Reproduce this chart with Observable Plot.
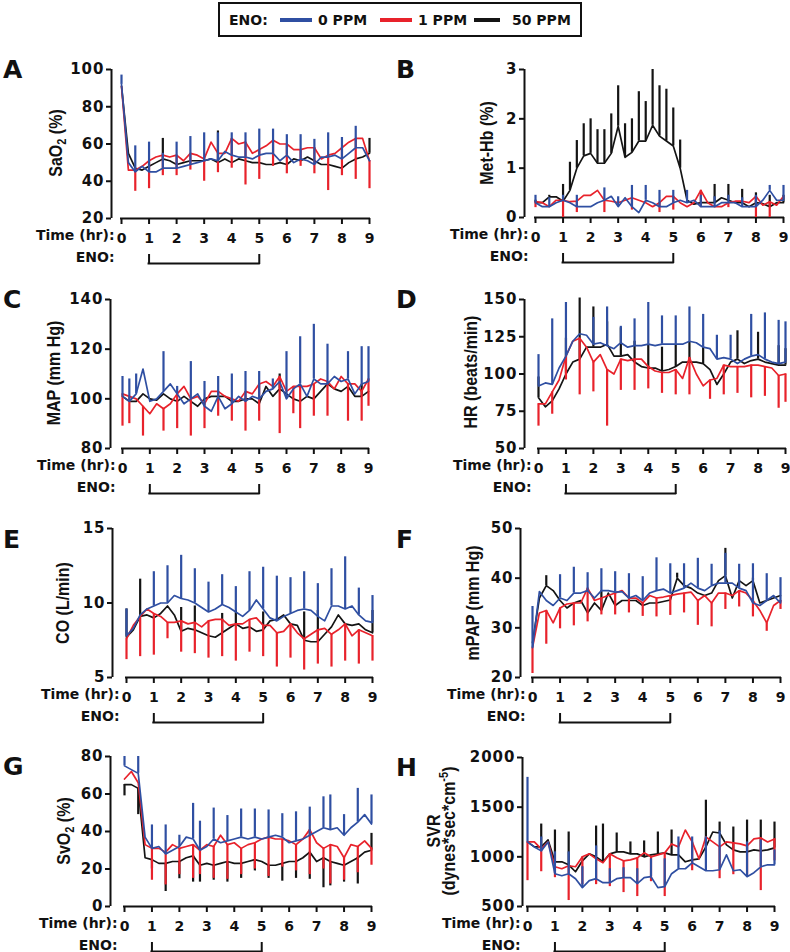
<!DOCTYPE html>
<html><head><meta charset="utf-8">
<script src="https://cdn.jsdelivr.net/npm/d3@7"></script>
<script src="https://cdn.jsdelivr.net/npm/@observablehq/plot@0.6"></script>
<style>
html,body{margin:0;padding:0;background:#fff;}
#wrap{position:relative;width:790px;height:952px;overflow:hidden;font-family:"DejaVu Sans",sans-serif;font-weight:bold;color:#111;background:#fff;}
.panel{position:absolute;}
.panel svg{max-width:none !important;background:transparent !important;}
.panel g[aria-label="y-axis tick label"] text{letter-spacing:1px;}
.letter{position:absolute;font-size:25px;line-height:25px;font-weight:bold;}
.ylab{position:absolute;font-family:"Liberation Sans",Arial,sans-serif;font-size:16px;font-weight:bold;white-space:nowrap;transform:translate(-50%,-50%) rotate(-90deg) scaleY(1.2);text-align:center;line-height:13px;}
.ylab sub{font-size:11px;vertical-align:-4px;line-height:0;}
.ylab sup{font-size:11px;vertical-align:6px;line-height:0;}
.lg{position:absolute;font-size:14px;line-height:16px;white-space:nowrap;}
.sw{position:absolute;height:4px;}
</style></head>
<body><div id="wrap"></div>
<script>
// ---------- shared axes data ----------
const hours = [0,0.25,0.5,0.75,1,1.25,1.5,1.75,2,2.25,2.5,2.75,3,3.25,3.5,3.75,4,4.25,4.5,4.75,5,5.25,5.5,5.75,6,6.25,6.5,6.75,7,7.25,7.5,7.75,8,8.25,8.5,8.75,9];
const timeTicks = [0,1,2,3,4,5,6,7,8,9];
const enoHours = [1, 5];
const groups = ["0 PPM", "1 PPM", "50 PPM"];

// ---------- A: SaO2 ----------
const sao2Ticks = [20,40,60,80,100];
const sao2_0 = [92,50,45,48,45,45,47,47,47,48,49,50,51,52,51,56,54,53,53,52,54,55,55,51,54,50,52,51,49,53,53,54,52,55,58,58,51];
const sao2_0_errT = [0,0.5,1,1.5,2,2.5,3,3.5,4,4.5,5,5.5,6,6.5,7,7.5,8,8.5];
const sao2_0_errTip = [97,59,61,55,61,64,66,66,66,66,68,68,65,65,62.5,66,63.5,69.5];
const sao2_1 = [91,46,46,48,51,53,54,53,54,51,55,54,52,61,55,55,63,60,61,55,57,59,62,60,60,57,57,58,58,52,54,55,58,61,63,63,51];
const sao2_1_errT = [0.5,1,1.5,2,2.5,3,3.5,4,4.5,5,5.5,6,6.5,7,7.5,8,8.5,9];
const sao2_1_errTip = [34.6,36,43,43,46,40,44.6,47,38,41,48,44,48,44,35,43,41,36];
const sao2_50 = [91,55,47,46,48,50,52,51,49,50,51,51,51,52,50,52,50,52,51,50,50,49,49,50,49,52,51,53,51,49,49,48,47,50,52,53,55];
const sao2_50_errT = [1.5,3.5,9];
const sao2_50_errTip = [63,67,63];

// ---------- B: Met-Hb ----------
const methbTicks = [0,1,2,3];
const methb_0 = [0.3,0.22,0.22,0.3,0.35,0.3,0.22,0.22,0.22,0.3,0.35,0.43,0.22,0.4,0.22,0.1,0.35,0.3,0.22,0.22,0.3,0.35,0.3,0.35,0.22,0.22,0.22,0.3,0.3,0.3,0.22,0.22,0.22,0.35,0.55,0.35,0.35];
const methb_0_errT = [0,0.5,1,1.5,2.5,3,3.5,4,4.5,5,5.5,6,6.5,7,7.5,8,8.5,9];
const methb_0_errTip = [0.45,0.4,0.45,0.45,0.6,0.42,0.65,0.65,0.55,0.55,0.55,0.45,0.42,0.45,0.4,0.45,0.65,0.65];
const methb_1 = [0.32,0.3,0.22,0.35,0.35,0.32,0.33,0.45,0.45,0.55,0.35,0.33,0.3,0.35,0.4,0.35,0.3,0.22,0.3,0.43,0.43,0.3,0.22,0.3,0.55,0.3,0.22,0.22,0.3,0.33,0.33,0.3,0.43,0.25,0.32,0.25,0.43];
const methb_1_errT = [0,1,1.5,2.5,3.5,4.5,5,6,7,8,8.5];
const methb_1_errTip = [0.2,0.0,0.1,0.1,0.15,0.1,0.15,0.2,0.2,0.0,0.0];
const methb_50 = [0.3,0.3,0.42,0.42,0.33,0.55,1.0,1.25,1.3,1.1,1.1,1.3,1.85,1.22,1.32,1.55,1.55,1.87,1.65,1.55,1.45,1.0,0.35,0.27,0.3,0.3,0.3,0.4,0.35,0.3,0.3,0.22,0.3,0.28,0.22,0.3,0.3];
const methb_50_errT = [0,0.5,1,1.25,1.5,1.75,2,2.25,2.5,2.75,3,3.25,3.5,3.75,4,4.25,4.5,4.75,5,5.25,6.5,7,7.5,8,8.5,9];
const methb_50_errTip = [0.35,0.45,0.67,1.12,1.56,1.9,2.0,1.78,1.78,2.1,2.67,1.9,2.0,2.55,2.35,3.0,2.67,2.6,2.22,1.57,0.67,0.67,0.57,0.5,0.45,0.45];

// ---------- C: MAP ----------
const mapTicks = [80,100,120,140];
const map_0 = [101,99,102,112,99,100,103,106,102,98,100,102,97,95,101,96,98,101,99,101,100,103,104,107,100,104,106,101,108,106,106,109,107,108,102,106,107];
const map_0_errT = [0,0.25,0.5,1.5,2,2.5,3,3.5,4,4.5,5,5.5,6,6.5,7,7.5,8.25,8.75,9];
const map_0_errTip = [109,108,110,119,105,115,107,109,110,111,111,108,119,125,130,122,119,121,121];
const map_1 = [102,101,100,97,94,98,96,98,102,105,100,101,98,103,103,101,100,99,103,102,106,107,105,109,103,105,105,105,106,108,107,104,109,106,106,103,108];
const map_1_errT = [0,0.25,0.75,1.5,2,2.5,3,3.5,4,4.5,5,5.75,6.25,6.5,7,7.5,8.25,8.75,9];
const map_1_errTip = [89,90,85,87,88,85,88,93,91,87,91,86,94,88,93,93,91,91,97];
const map_50 = [101,99,99,102,100,99.5,102,100,99,101,99,97,100,101,101,101,99,99,100,100,98,105,101,104,102,100,99,101,100,103,106,104,103,105,101,101,103];
const map_50_errT = [5.75,8.75];
const map_50_errTip = [110,106];

// ---------- D: HR ----------
const hrTicks = [50,75,100,125,150];
const hr_0 = [92,94,93,104,112,122,127,126,120,121,119,117,121,118,119,119,120,119,120,120,120,120,122,121,118,117,110,111,110,107,110,112,113,110,108,107,108];
const hr_0_errT = [0,0.5,1,2,2.5,3,3.5,4,4.5,5,5.5,6,6.5,7,7.75,8.25,8.75,9];
const hr_0_errTip = [113,137,148,138,145,132,137,148,139,139,145,140,126,126,140,141,136,135];
const hr_1 = [80,80,88,96,112,122,124,118,108,113,103,100,110,109,110,110,105,102,101,101,103,97,111,100,92,96,97,106,105,105,105,106,106,105,104,99,100];
const hr_1_errT = [0,0.5,1,1.5,2,2.5,3,3.5,4,4.5,5,5.5,6.25,6.75,7.25,7.75,8.25,8.75,9];
const hr_1_errTip = [65,73,96,86,88,65,89,89,90,87,86,86,83,86,87,84,85,77,81];
const hr_50 = [84,78,82,90,100,108,110,118,118,118,120,112,112,113,108,105,104,104,102,103,105,108,108,108,107,103,93,100,108,110,107,109,110,108,107,106,106];
const hr_50_errT = [0,1,1.5,2,2.5,3,3.5,4,4.5,5,5.5,6,7.25,8,8.75,9];
const hr_50_errTip = [98,124,151,145,135,131,122,120,118,120,122,118,129,128,119,117];

// ---------- E: CO ----------
const coTicks = [5,10,15];
const co_0 = [7.8,8.3,9.2,9.6,9.8,10.0,10.0,10.5,10.3,10.2,10.0,9.7,9.4,9.6,9.9,9.7,9.4,9.1,9.5,10.2,9.6,9.0,8.8,9.1,9.3,9.5,9.6,9.5,9.1,8.8,9.8,9.8,9.6,9.8,9.2,8.8,8.7];
const co_0_errT = [0,1,1.5,2,2.5,3,3.5,4,4.5,5,5.5,6,6.5,7,7.5,8,8.5,9];
const co_0_errTip = [9.6,12.1,12.5,13.2,12.3,11.4,11.9,11.1,12.1,12.4,11.8,11.7,12.1,11.3,12.3,13.1,11.0,10.5];
const co_1 = [7.6,8.5,9.1,9.6,9.3,9.1,8.7,8.7,8.8,8.6,8.7,8.4,8.8,8.9,8.9,8.5,8.6,8.6,8.9,9.0,8.5,8.5,8.0,8.1,8.6,8.0,7.6,7.9,8.2,8.3,7.9,8.2,8.6,7.8,8.2,8.0,7.8];
const co_1_errT = [0,0.5,1,1.5,2,2.5,3,3.5,4,4.5,5,5.5,6,6.5,7,7.5,8,8.5,9];
const co_1_errTip = [6.2,6.4,6.5,7.6,6.7,6.6,6.3,6.4,6.1,6.7,6.4,5.7,6.3,5.5,5.9,5.7,6.1,5.9,6.1];
const co_50 = [7.7,8.2,9.1,9.2,9.0,9.3,9.8,9.2,8.1,8.3,8.2,8.0,7.8,7.7,8.0,8.3,8.6,8.3,8.4,8.1,8.2,8.8,8.9,9.2,8.6,8.5,7.5,7.4,7.4,7.9,8.4,9.2,8.6,8.5,8.6,8.2,8.0];
const co_50_errT = [0,0.5,2,2.5,3.5,4,5,6.5,7,9];
const co_50_errTip = [9.6,11.6,9.7,9.8,9.3,9.5,9.4,9.4,9.5,9.5];

// ---------- F: mPAP ----------
const mpapTicks = [20,30,40,50];
const mpap_0 = [26,37.3,35.5,34.5,36,35.5,37,37,37.5,36,37.5,37.5,37.2,37.3,36,36.5,35.5,37,37.5,37.8,37,37.5,38,39,38,37.5,38.5,39,39,39,38,37.5,35,34.5,35.5,36.5,35];
const mpap_0_errT = [0,1,1.5,2,2.5,3,3.5,4,4.5,5,5.5,6,6.5,7,7.5,8,8.5,9];
const mpap_0_errTip = [34.3,40.7,42.2,41.1,41.9,41.3,40.9,40.3,44.1,42.9,42.9,44.0,42.8,45.0,42.8,42.9,40.9,40.1];
const mpap_1 = [26,33,33.5,31,34,34.8,35,35,38,35.5,36,36.5,37,37.5,36,36,35,36.5,36,36.2,36.5,36.8,37,37.2,35.5,36.5,35,37,37,36.5,37.5,37,35.5,33.5,31,34.5,35.5];
const mpap_1_errT = [0,0.5,1,1.5,2,2.5,3,3.5,4,4.5,5,5.5,6,6.5,7,7.5,8,8.5,9];
const mpap_1_errTip = [20.8,26.7,29.8,30.4,31.2,32.6,32.6,33,32.3,32.2,32.5,33,30.5,30.2,33.7,34.2,32.2,29.3,33.7];
const mpap_50 = [27,36,38.5,37.5,35.5,34,35,35.5,33,35,33.5,37,34.5,35.5,35.5,35.5,34.5,35,35,35.3,35.6,40,38.5,38,37,36.5,37,39.5,40.5,36,39.5,38.5,39.5,35,35.5,36,36.5];
const mpap_50_errT = [0.5,2.5,5.25,7,8];
const mpap_50_errTip = [40.5,37.5,41,46,40];

// ---------- G: SvO2 ----------
const svo2Ticks = [0,20,40,60,80];
const svo2_0 = [75,73,71,37,31,32,28,30,32,37,36,30,32,36,34,35,36,37,36,37,36,37,38,37,34,35,36,38,40,42,41,42,38,42,45,49,44];
const svo2_0_errT = [0,0.5,1,1.5,2,2.5,2.75,3.25,3.75,4.25,4.75,5.25,5.75,6.25,6.75,7.25,7.5,8,8.5,9];
const svo2_0_errTip = [80,80,43.5,43.5,38,55,45.5,52.5,48.5,52,52,51.5,49.5,50.5,53,58.5,59.5,49,63,59.5];
const svo2_1 = [68,72,66,33,31,31,29,33,31,32,33,30,33,32,38,33,34,31,33,34,36,37,36,36,35,33,36,41,34,31,33,32,26,33,32,35,31];
const svo2_1_errT = [1,1.5,2,2.5,2.75,3.25,3.75,4.25,4.75,5.25,5.75,6.25,6.75,7.25,7.5,8,8.5,9];
const svo2_1_errTip = [14,11.5,17,15,17,15,14.5,17,20,16,21,19,17,20,12,14,18,22];
const svo2_50 = [65,65,63,26,25,23,23,24,24,26,27,22,23,22,23,24,23,23,24,25,24,22,22,23,24,24,26,29,24,26,24,23,22,24,26,29,30];
const svo2_50_errT = [0,0.5,1,1.5,2,2.5,2.75,3.25,3.75,4.25,4.75,5.25,5.75,6.25,6.75,7.25,7.5,8,8.5,9];
const svo2_50_errTip = [59,49,20,8,14.8,13,13,14,13,15,19,15,13.5,15,14.5,10,11,13,12,39];

// ---------- H: SVR ----------
const svrTicks = [500,1000,1500,2000];
const svr_0 = [1150,1100,1060,1150,830,810,830,780,690,760,780,740,740,780,790,790,730,790,800,690,700,830,880,880,940,900,860,860,870,1020,860,870,800,840,900,920,920];
const svr_0_errT = [0,0.5,1,1.5,2,2.5,3,3.5,4,4.5,5,5.5,6,6.5,7,8,8.5,9];
const svr_0_errTip = [1800,1200,1050,1050,900,1110,880,890,880,980,980,1200,1200,1200,1260,1150,1170,1070];
const svr_1 = [1150,1150,1080,1150,900,880,910,900,1000,1030,980,940,1030,990,960,970,990,1040,1000,1020,1040,1130,1100,1270,1150,980,1200,1150,1100,1150,1140,1130,1110,1180,1190,1150,1180];
const svr_1_errT = [0,0.5,1,1.5,2,2.5,3,3.5,4,4.5,5,6,7,7.5,8,8.5,9];
const svr_1_errTip = [760,850,790,560,720,720,700,640,600,750,600,860,780,820,800,660,960];
const svr_50 = [1150,1100,1100,1170,950,950,920,850,960,1030,1000,950,1030,1050,1050,1030,1030,1000,1020,1030,1040,1020,1020,950,970,980,1100,1250,1240,1120,1070,1050,1050,1070,1060,1070,1090];
const svr_50_errT = [0.5,1,1.5,2.5,2.75,3.25,3.75,4.25,4.75,5.25,6.5,7,7.5,8,8.5,9];
const svr_50_errTip = [1330,1270,1250,1310,1330,1240,1150,1160,1250,1270,1570,1350,1300,1370,1370,1350];

// ---------- styling / layout ----------
const COLORS = {"0 PPM": "#2f4fa2", "1 PPM": "#e8222b", "50 PPM": "#141414"};
const AXIS = "#111";

const panels = [
  {letter:"A", label:"SaO<sub>2</sub> (%)", ticks:sao2Ticks, s:[[sao2_50,sao2_50_errT,sao2_50_errTip],[sao2_1,sao2_1_errT,sao2_1_errTip],[sao2_0,sao2_0_errT,sao2_0_errTip]],
   g:{axisX:111,x0:121,x9:369,yTop:69,yBot:218,lx:3,ly:57,yl:[55,143]}},
  {letter:"B", label:"Met-Hb (%)", ticks:methbTicks, s:[[methb_50,methb_50_errT,methb_50_errTip],[methb_1,methb_1_errT,methb_1_errTip],[methb_0,methb_0_errT,methb_0_errTip]],
   g:{axisX:524,x0:535,x9:783,yTop:69,yBot:217,lx:396,ly:57,yl:[486,143]}},
  {letter:"C", label:"MAP (mm Hg)", ticks:mapTicks, s:[[map_50,map_50_errT,map_50_errTip],[map_1,map_1_errT,map_1_errTip],[map_0,map_0_errT,map_0_errTip]],
   g:{axisX:110,x0:122,x9:368,yTop:299,yBot:448,lx:3,ly:287,yl:[53,373]}},
  {letter:"D", label:"HR (beats/min)", ticks:hrTicks, s:[[hr_50,hr_50_errT,hr_50_errTip],[hr_1,hr_1_errT,hr_1_errTip],[hr_0,hr_0_errT,hr_0_errTip]],
   g:{axisX:524,x0:538,x9:785,yTop:299,yBot:448,lx:396,ly:287,yl:[470,372]}},
  {letter:"E", label:"CO (L/min)", ticks:coTicks, s:[[co_50,co_50_errT,co_50_errTip],[co_1,co_1_errT,co_1_errTip],[co_0,co_0_errT,co_0_errTip]],
   g:{axisX:112,x0:126,x9:372,yTop:528,yBot:677,lx:3,ly:527,yl:[62,603]}},
  {letter:"F", label:"mPAP (mm Hg)", ticks:mpapTicks, s:[[mpap_50,mpap_50_errT,mpap_50_errTip],[mpap_1,mpap_1_errT,mpap_1_errTip],[mpap_0,mpap_0_errT,mpap_0_errTip]],
   g:{axisX:520,x0:532,x9:780,yTop:528,yBot:677,lx:396,ly:527,yl:[472,603]}},
  {letter:"G", label:"SvO<sub>2</sub> (%)", ticks:svo2Ticks, s:[[svo2_50,svo2_50_errT,svo2_50_errTip],[svo2_1,svo2_1_errT,svo2_1_errTip],[svo2_0,svo2_0_errT,svo2_0_errTip]],
   g:{axisX:110,x0:124,x9:371,yTop:756,yBot:906,lx:3,ly:754,yl:[63,831]}},
  {letter:"H", label:"SVR<br>(dynes*sec*cm<sup>-5</sup>)", ticks:svrTicks, s:[[svr_50,svr_50_errT,svr_50_errTip],[svr_1,svr_1_errT,svr_1_errTip],[svr_0,svr_0_errT,svr_0_errTip]],
   g:{axisX:522,x0:527,x9:774,yTop:757,yBot:906,lx:396,ly:755,yl:[441,831]}}
];
const seriesGroups = ["50 PPM", "1 PPM", "0 PPM"];

const wrap = document.getElementById("wrap");

function buildPanel(p) {
  const g = p.g;
  const L = g.axisX - 105, T = g.yTop - 12, mb = 54;
  const pxPerHr = (g.x9 - g.x0) / (timeTicks[timeTicks.length-1] - timeTicks[0]);
  const d = (g.x0 - g.axisX) / pxPerHr;
  const width = g.x9 - L + 12;
  const height = g.yBot - T + mb;
  const plotH = g.yBot - g.yTop;
  const ymin = p.ticks[0], ymax = p.ticks[p.ticks.length-1];
  const marks = [];
  p.s.forEach(([vals, errT, errTip], k) => {
    const color = COLORS[seriesGroups[k]];
    const line = vals.map((v, i) => ({t: hours[i], v}));
    const bars = errT.map((t, i) => ({t, v: vals[hours.indexOf(t)], tip: errTip[i]}));
    marks.push(Plot.ruleX(bars, {x: "t", y1: "v", y2: "tip", stroke: color, strokeWidth: 2.2}));
    marks.push(Plot.line(line, {x: "t", y: "v", stroke: color, strokeWidth: 1.7, strokeLinejoin: "round"}));
  });
  const first = timeTicks[0], last = timeTicks[timeTicks.length-1];
  const chart = Plot.plot({
    width, height,
    marginLeft: g.axisX - L, marginRight: 12, marginTop: g.yTop - T, marginBottom: mb,
    x: {domain: [first - d, last], axis: null},
    y: {domain: [ymin, ymax], axis: null},
    style: {fontFamily: "'DejaVu Sans', sans-serif", fontSize: "14px", fontWeight: "bold", color: AXIS, background: "transparent", overflow: "visible"},
    marks: [
      Plot.ruleX([first - d], {stroke: AXIS, strokeWidth: 2}),
      Plot.axisY(p.ticks, {anchor: "left", tickSize: 5, tickPadding: 2, strokeWidth: 2, stroke: AXIS, label: null, fontSize: 15, fontWeight: "bold", tickFormat: v => String(v)}),
      Plot.ruleY([ymin], {x1: () => first, x2: () => last, stroke: AXIS, strokeWidth: 2, strokeLinecap: "square"}),
      Plot.axisX(timeTicks, {anchor: "bottom", tickSize: 6, tickPadding: 9, strokeWidth: 2, stroke: AXIS, label: null, fontSize: 14, fontWeight: "bold", tickFormat: v => String(v)}),
      Plot.text(["Time (hr):"], {x: () => first, frameAnchor: "bottom", dy: 21, dx: -7, textAnchor: "end", fontSize: 14, fontWeight: "bold", fill: AXIS}),
      Plot.text(["ENO:"], {x: () => first, frameAnchor: "bottom", dy: 43, dx: -7, textAnchor: "end", fontSize: 14, fontWeight: "bold", fill: AXIS}),
      Plot.ruleY([ymin], {x1: () => enoHours[0], x2: () => enoHours[1], dy: 45, stroke: AXIS, strokeWidth: 2, strokeLinecap: "square"}),
      Plot.ruleX(enoHours, {insetTop: plotH - 8, dy: 45, stroke: AXIS, strokeWidth: 2, strokeLinecap: "square"}),
      ...marks
    ]
  });
  const div = document.createElement("div");
  div.className = "panel";
  div.style.left = L + "px"; div.style.top = T + "px";
  div.style.width = width + "px"; div.style.height = height + "px";
  div.appendChild(chart);
  wrap.appendChild(div);

  const lt = document.createElement("div");
  lt.className = "letter"; lt.textContent = p.letter;
  lt.style.left = g.lx + "px"; lt.style.top = g.ly + "px";
  wrap.appendChild(lt);

  const yl = document.createElement("div");
  yl.className = "ylab"; yl.innerHTML = p.label;
  yl.style.left = g.yl[0] + "px"; yl.style.top = g.yl[1] + "px";
  wrap.appendChild(yl);
}
panels.forEach(buildPanel);

// ---------- legend ----------
function addEl(cls, text, css) {
  const e = document.createElement("div");
  e.className = cls; if (text) e.textContent = text;
  Object.assign(e.style, css);
  wrap.appendChild(e);
}
addEl("", "", {position: "absolute", left: "218px", top: "2px", width: "360px", height: "31px", border: "2px solid #111"});
addEl("lg", "ENO:", {left: "229px", top: "12px"});
const legendPos = {"0 PPM": [280, 312, 318], "1 PPM": [380, 412, 418], "50 PPM": [474, 500, 512]};
groups.forEach(gname => {
  const [a, b, tx] = legendPos[gname];
  addEl("sw", "", {left: a + "px", width: (b - a) + "px", top: "18px", background: COLORS[gname]});
  addEl("lg", gname, {left: tx + "px", top: "12px"});
});
</script>
</body></html>
